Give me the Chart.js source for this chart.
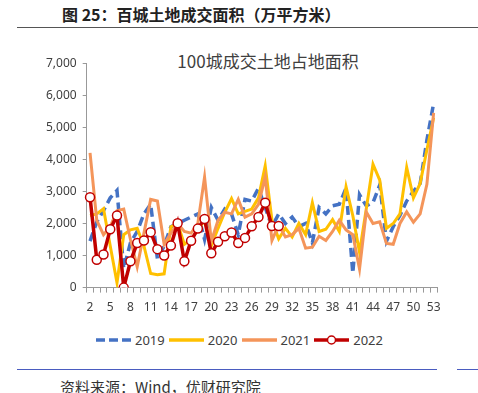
<!DOCTYPE html>
<html>
<head>
<meta charset="utf-8">
<script src="https://cdn.jsdelivr.net/npm/chart.js@4.4.0/dist/chart.umd.min.js"></script>
<style>
  body { margin:0; width:478px; height:393px; background:#fff; position:relative; overflow:hidden;
         font-family:"Noto Sans","Noto Sans CJK SC",sans-serif; }
  #ttl { position:absolute; left:62px; top:2px; font-size:16px; font-weight:bold; color:#222;
         font-family:"Noto Sans CJK SC",sans-serif; white-space:nowrap; }
  #rule1 { position:absolute; left:17px; top:27px; width:461px; height:0; border-top:1.5px solid #555; }
  #ctitle { position:absolute; left:150px; width:236px; top:48px; text-align:center; font-size:17px; color:#404040;
            font-family:"Noto Sans CJK SC",sans-serif; white-space:nowrap; }
  #wrap { position:absolute; left:0; top:50px; width:478px; height:275px; }
  #legend { position:absolute; left:96px; top:331px; display:flex; align-items:center; font-size:13px; color:#404040; }
  #legend span { margin:0 4px 0 4px; }
  #rule2 { position:absolute; left:17px; top:369px; width:420px; border-top:1px solid #4a5cc0; }
  #rule3 { position:absolute; left:457px; top:369px; width:21px; border-top:1px solid #4a5cc0; }
  #src { position:absolute; left:60px; top:376px; font-size:15px; color:#333; white-space:nowrap;
         font-family:"Noto Sans CJK SC",sans-serif; }
</style>
</head>
<body>
<div id="ttl">图 25：百城土地成交面积（万平方米）</div>
<div id="rule1"></div>
<div id="ctitle">100城成交土地占地面积</div>
<div id="wrap"><canvas id="c"></canvas></div>
<div id="legend"></div>
<div id="rule2"></div>
<div id="rule3"></div>
<div id="src">资料来源：Wind，优财研究院</div>
<script>
// weeks 2..53
var weeks = [];
for (var w = 2; w <= 53; w++) weeks.push(String(w));

var names = ["2019", "2020", "2021", "2022"];

var v2019 = [1450,2050,2400,2800,3030,600,1400,1750,2300,2600,900,1300,1900,2000,2100,2200,2300,1500,2500,2100,
             2450,2300,1650,2750,2700,3100,2500,1900,2300,2000,2200,1900,2000,1400,2500,2300,2550,2600,3100,450,
             2900,2550,2650,3200,1450,1900,2250,2700,3000,3250,4600,5750];
var v2020 = [2250,2300,2460,1300,150,1650,1800,1850,1300,440,400,430,1900,2000,1350,1500,1800,2100,1300,1850,
             2350,2780,2300,2380,2450,2800,3800,2100,1520,1850,1580,2000,1650,2650,1750,1820,2120,1750,3150,2250,
             1100,2450,3850,3350,1850,2000,2300,3750,2800,3250,4300,5300];
var v2021 = [4200,2100,1650,1900,2400,2450,1500,650,1700,2750,2700,1350,1700,2000,1750,1700,2000,3450,1450,2100,
             2350,2300,2750,2200,2300,2600,3450,1470,1950,1580,1650,1850,1230,1260,1600,1470,1750,2100,1800,1650,
             580,2360,2000,2050,1380,1350,2000,2360,2040,2300,3220,5450];
var v2022 = [2820,870,1030,1820,2250,0,820,1390,1470,1730,1200,1000,1310,2010,820,1460,1840,2140,1070,1430,
             1600,1720,1390,1550,1910,2200,2650,1920,1920];

var colors = ["#4472C4", "#FFC000", "#F4955A", "#C00000"];

var ctx = document.getElementById("c");
var chart = new Chart(ctx, {
  type: 'line',
  data: {
    labels: weeks,
    datasets: [
      { label: names[0], data: v2019, borderColor: colors[0], borderWidth: 3.5, borderDash: [9, 5],
        pointRadius: 0, order: 3 },
      { label: names[1], data: v2020, borderColor: colors[1], borderWidth: 3, pointRadius: 0, order: 2 },
      { label: names[2], data: v2021, borderColor: colors[2], borderWidth: 3, pointRadius: 0, order: 1 },
      { label: names[3], data: v2022, borderColor: colors[3], borderWidth: 3.5, pointRadius: 4.5,
        pointBackgroundColor: '#fff', pointBorderColor: colors[3], pointBorderWidth: 1.5, order: 0 }
    ]
  },
  options: {
    responsive: true,
    maintainAspectRatio: false,
    animation: false,
    layout: { padding: { left: 40, right: 41, top: 2, bottom: 2 } },
    plugins: { legend: { display: false }, title: { display: false }, tooltip: { enabled: false } },
    scales: {
      x: {
        offset: true,
        grid: { display: true, drawOnChartArea: false, drawTicks: true, tickLength: 5, offset: true, color: '#999' },
        border: { color: '#999' },
        ticks: {
          autoSkip: false, maxRotation: 0, padding: 8, color: '#404040',
          font: { family: 'Noto Sans', size: 12 },
          callback: function(val, i) { return i % 3 === 0 ? this.getLabelForValue(val) : ''; }
        }
      },
      y: {
        min: 0, max: 7000,
        grid: { display: true, drawOnChartArea: false, drawTicks: true, tickLength: 4, color: '#999' },
        border: { color: '#999' },
        ticks: {
          stepSize: 1000, padding: 6, color: '#404040',
          font: { family: 'Noto Sans', size: 12 },
          callback: function(v) { return v.toLocaleString('en-US'); }
        }
      }
    }
  }
});

// legend
var lg = document.getElementById("legend");
names.forEach(function(n, i) {
  var svg = '<svg width="35" height="10">';
  if (i === 0) {
    svg += '<line x1="0" y1="5" x2="35" y2="5" stroke="' + colors[i] + '" stroke-width="3.5" stroke-dasharray="9,4"/>';
  } else {
    svg += '<line x1="0" y1="5" x2="35" y2="5" stroke="' + colors[i] + '" stroke-width="3.5"/>';
  }
  if (i === 3) svg += '<circle cx="17.5" cy="5" r="4" fill="#fff" stroke="' + colors[i] + '" stroke-width="1.5"/>';
  svg += '</svg>';
  lg.insertAdjacentHTML('beforeend', svg + '<span>' + n + '</span>');
});
</script>
</body>
</html>
